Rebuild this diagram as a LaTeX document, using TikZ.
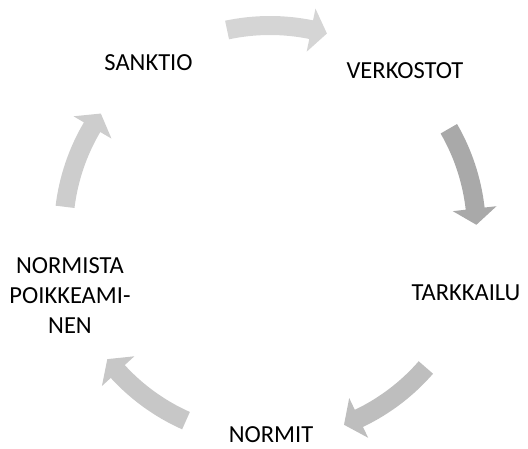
\documentclass[tikz,border=0pt]{standalone}
\usepackage{fontspec}
\setmainfont{Carlito}
\usepackage{tikz}
\definecolor{arrowA}{HTML}{D5D5D5}
\definecolor{arrowB}{HTML}{A9A9A9}
\definecolor{arrowC}{HTML}{BEBEBE}
\definecolor{arrowD}{HTML}{C7C7C7}
\definecolor{arrowE}{HTML}{CDCDCD}
\tikzstyle{phase}=[
	inner sep=0pt,
	align=center,
	font=\fontsize{24.5}{30}\selectfont
]
\tikzstyle{cyclefill}=[
	draw=none
]
% curved block arrow around (hub): #1 = middle angle, #2 = colour
\newcommand{\cyclearrow}[2]{
	\fill[cyclefill, #2, shift={(hub)}] (#1+14:197pt)
		arc[start angle=#1+14, end angle=#1-9.5, radius=197pt]
		-- (#1-9.5:184pt) -- (#1-14:206.5pt) -- (#1-9.5:228pt)
		-- (#1-9.5:216pt)
		arc[start angle=#1-9.5, end angle=#1+14, radius=216pt] -- cycle;
}

\begin{document}
\begin{tikzpicture}[x=1pt,y=1pt]
\useasboundingbox (0,0) rectangle (528,448);
\coordinate (hub) at (270,216);

\node [phase] (sanktio) at (148.5,385) {SANKTIO};
\node [phase] (verkostot) at (405,377.5) {VERKOSTOT};
\node [phase] (tarkkailu) at (466,155) {TARKKAILU};
\node [phase] (normit) at (271,13.5) {NORMIT};
\node [phase] (poikkeaminen) at (70,152.5) {NORMISTA\\POIKKEAMI-\\NEN};

% arrows of the cycle
\cyclearrow{88}{arrowA}
\cyclearrow{16}{arrowB}
\cyclearrow{-55}{arrowC}
\cyclearrow{-128}{arrowD}
\cyclearrow{159}{arrowE}
\end{tikzpicture}
\end{document}
